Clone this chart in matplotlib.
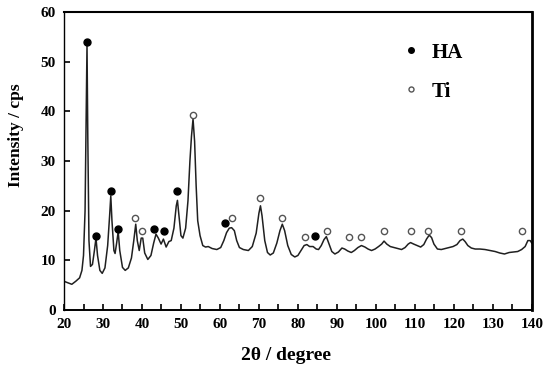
import matplotlib
matplotlib.use("Agg")
import matplotlib.pyplot as plt
from matplotlib.ticker import MultipleLocator

# XRD pattern (2theta in degree, intensity in cps)
two_theta = [
    20.0, 21.0, 22.0, 23.0, 24.0, 24.6, 25.0, 25.4, 25.7, 25.9, 26.1, 26.4, 26.8, 27.3, 27.8,
    28.2, 28.6, 29.2, 29.8, 30.5, 31.2, 31.7, 32.0, 32.3, 32.8, 33.1, 33.5, 33.9, 34.3, 35.0,
    35.7, 36.5, 37.3, 37.9, 38.4, 38.8, 39.3, 39.8, 40.2, 40.7, 41.5, 42.3, 43.0, 43.6, 44.2,
    44.9, 45.5, 46.2, 46.9, 47.5, 48.2, 48.8, 49.1, 49.5, 50.0, 50.5, 51.2, 51.8, 52.3, 52.7,
    53.1, 53.5, 53.9, 54.3, 54.9, 55.6, 56.3, 57.0, 58.0, 59.2, 60.2, 61.0, 61.7, 62.4, 63.0,
    63.7, 64.3, 65.0, 66.0, 67.3, 68.3, 69.3, 70.0, 70.4, 70.8, 71.5, 72.2, 72.9, 73.7, 74.6,
    75.4, 76.0, 76.6, 77.4, 78.3, 79.2, 80.0, 80.8, 81.6, 82.3, 83.0, 83.9, 84.7, 85.3, 86.0,
    86.7, 87.3, 87.9, 88.7, 89.5, 90.4, 91.3, 92.0, 92.8, 93.7, 94.5, 95.4, 96.3, 97.2, 98.0,
    98.9, 99.8, 100.7, 101.5, 102.1, 102.8, 103.7, 104.7, 105.7, 106.6, 107.5, 108.3, 108.9, 109.7, 110.6,
    111.5, 112.3, 113.0, 113.7, 114.3, 114.9, 115.8, 116.8, 117.8, 118.8, 119.8, 120.8, 121.6, 122.3, 122.9,
    123.6, 124.5, 125.5, 126.7, 128.0, 129.3, 130.6, 131.8, 133.0, 134.2, 135.3, 136.4, 137.4, 138.3, 139.0,
    139.6, 140.0,
]
intensity = [
    5.8, 5.5, 5.2, 5.8, 6.5, 8.0, 11.0, 20.0, 40.0, 53.5, 35.0, 14.0, 8.8, 9.2, 12.0,
    14.5, 11.0, 8.0, 7.4, 8.5, 13.0, 19.0, 23.0, 18.0, 12.0, 11.4, 13.5, 15.8, 12.0, 8.6,
    8.0, 8.5, 10.5, 14.0, 17.3, 14.0, 12.0, 14.5, 14.5, 11.5, 10.2, 11.0, 13.5, 15.3, 14.5,
    13.3, 14.3, 12.7, 13.8, 14.0, 16.5, 21.0, 22.1, 19.0, 15.0, 14.5, 16.5, 22.0, 30.0, 35.0,
    38.5, 34.0, 25.0, 18.0, 15.0, 13.0, 12.7, 12.8, 12.4, 12.2, 12.6, 14.0, 15.6, 16.5, 16.6,
    16.0, 14.0, 12.6, 12.2, 12.0, 12.8, 15.5, 19.5, 21.0, 19.0, 14.0, 11.6, 11.1, 11.5, 13.5,
    16.0, 17.3, 16.0, 13.0, 11.2, 10.7, 11.0, 12.0, 13.0, 13.2, 12.8, 12.8, 12.3, 12.2, 13.0,
    14.2, 14.8, 13.5, 11.8, 11.3, 11.7, 12.5, 12.3, 11.9, 11.6, 12.0, 12.6, 13.0, 12.7, 12.3,
    12.0, 12.3, 12.8, 13.3, 13.9, 13.3, 12.8, 12.6, 12.4, 12.2, 12.6, 13.3, 13.6, 13.3, 13.0,
    12.7, 13.2, 14.3, 15.1, 14.6, 13.3, 12.3, 12.2, 12.4, 12.6, 12.8, 13.2, 14.0, 14.3, 13.8,
    13.0, 12.5, 12.3, 12.3, 12.2, 12.0, 11.8, 11.5, 11.3, 11.6, 11.7, 11.8, 12.2, 12.8, 14.0,
    14.0, 13.5,
]

# phase markers
ha_x = [26.0, 28.3, 32.0, 33.8, 43.2, 45.6, 49.1, 61.3, 84.5]
ha_y = [54.0, 15.0, 24.0, 16.3, 16.3, 16.0, 24.0, 17.5, 15.0]
ti_x = [38.3, 40.0, 53.2, 63.0, 70.3, 76.0, 81.7, 87.4, 93.2, 96.1, 102.0, 109.0, 113.3, 121.8, 137.6]
ti_y = [18.5, 16.0, 39.3, 18.5, 22.5, 18.5, 14.8, 16.0, 14.8, 14.8, 16.0, 16.0, 16.0, 16.0, 16.0]

plt.rcParams["font.family"] = ["Liberation Serif", "DejaVu Serif"]
plt.rcParams["font.weight"] = "bold"

figure = plt.figure(figsize = (5.49, 3.67), dpi = 100)
axes = figure.add_axes([0.1166, 0.155, 0.852, 0.812])

axes.plot(two_theta, intensity, color = "#202020", linewidth = 1.1)
axes.plot(ha_x, ha_y, "o", color = "black", markersize = 5, linestyle = "none", label = "HA")
axes.plot(ti_x, ti_y, "o", markerfacecolor = "white", markeredgecolor = "#555555",
          markeredgewidth = 1.0, markersize = 4.5, linestyle = "none", label = "Ti")

axes.set_xlim(20, 140)
axes.set_ylim(0, 60)
axes.xaxis.set_major_locator(MultipleLocator(10))
axes.xaxis.set_minor_locator(MultipleLocator(5))
axes.yaxis.set_major_locator(MultipleLocator(10))
axes.tick_params(which = "both", direction = "in", labelsize = 11, width = 1.2, length = 4, pad = 6)
for label in axes.get_xticklabels() + axes.get_yticklabels():
    label.set_fontweight("bold")

axes.spines["left"].set_linewidth(1.0)
axes.spines["bottom"].set_linewidth(1.4)
axes.spines["top"].set_linewidth(1.5)
axes.spines["right"].set_linewidth(2.0)

axes.set_xlabel("2θ / degree", fontsize = 14, fontweight = "bold")
axes.xaxis.set_label_coords(0.474, -0.125)
axes.set_ylabel("Intensity / cps", fontsize = 12.5, fontweight = "bold")
axes.yaxis.set_label_coords(-0.085, 0.587)

legend = axes.legend(loc = "upper left", bbox_to_anchor = (0.68, 0.96), frameon = False,
                     fontsize = 15, handletextpad = 0.5, labelspacing = 0.9, markerscale = 0.8,
                     handlelength = 1.0)
for text in legend.get_texts():
    text.set_fontweight("bold")

figure.savefig("out.png", dpi = 100)
